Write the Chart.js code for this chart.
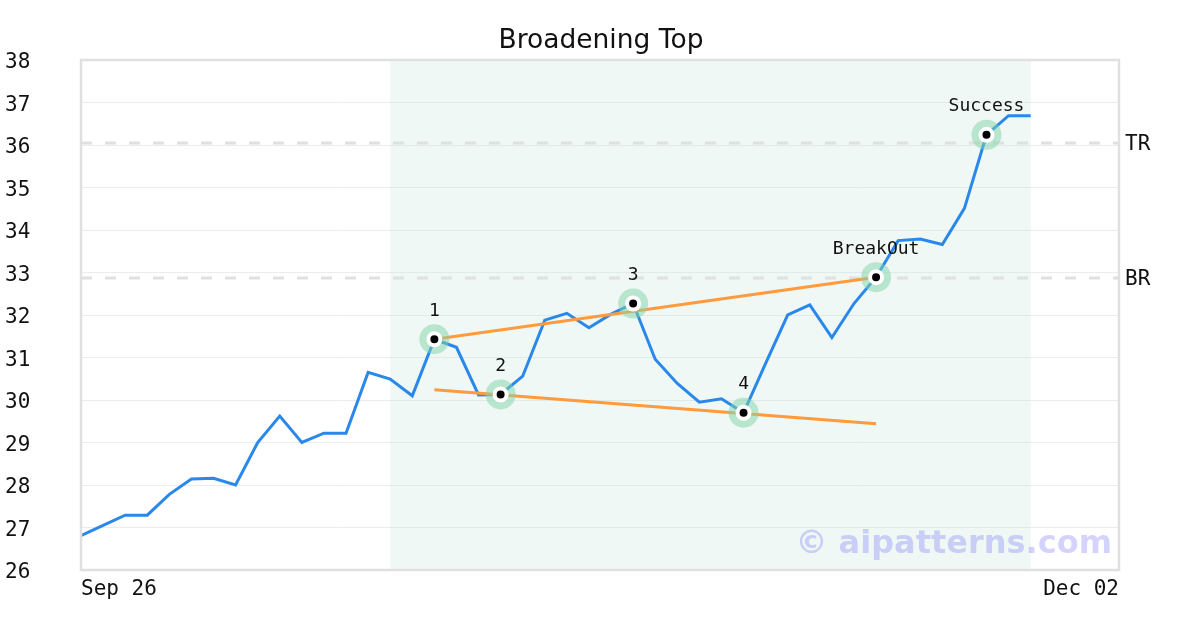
<!DOCTYPE html>
<html>
<head>
<meta charset="utf-8">
<script src="https://cdn.jsdelivr.net/npm/chart.js@4"></script>
<style>
  html, body { margin: 0; padding: 0; background: #fff; }
  canvas { display: block; }
</style>
</head>
<body>
<canvas id="patternChart" width="1200" height="630"></canvas>
<script>
// price series, one value per session starting Sep 26
const prices = [
    26.81, 27.05, 27.29, 27.29, 27.78, 28.14, 28.16, 28.00, 29.00, 29.62,
    29.00, 29.22, 29.22, 30.65, 30.49, 30.10, 31.43, 31.24, 30.12, 30.13,
    30.56, 31.88, 32.04, 31.70, 32.02, 32.27, 30.96, 30.39, 29.95, 30.03,
    29.70, 30.86, 32.00, 32.24, 31.47, 32.27, 32.89, 33.75, 33.79, 33.66,
    34.51, 36.24, 36.69, 36.69
];
const xTickLabels = ['Sep 26', 'Dec 02'];
const xTickIndex = [0, 47];
const yTicks = [26, 27, 28, 29, 30, 31, 32, 33, 34, 35, 36, 37, 38];

// pattern points
const pivotIndex = [16, 19, 25, 30, 36, 41];
const pivotLabels = ['1', '2', '3', '4', 'BreakOut', 'Success'];

// trend lines [startIdx, startVal, endIdx, endVal]
const upperTrend = [16, 31.43, 36, 32.89];
const lowerTrend = [16, 30.24, 36, 29.44];

// target / breakout levels
const levelValues = [36.05, 32.87];
const levelLabels = ['TR', 'BR'];

// highlighted range (indices)
const shadeRange = [14, 43];

const monoFont = "'DejaVu Sans Mono', monospace";

const pricePoints = prices.map((v, i) => ({ x: i, y: v }));
const pivotPoints = pivotIndex.map(i => ({ x: i, y: prices[i] }));

const extras = {
    id: 'extras',
    beforeDatasetsDraw(chart) {
        const { ctx, chartArea, scales } = chart;
        const x0 = scales.x.getPixelForValue(shadeRange[0]);
        const x1 = scales.x.getPixelForValue(shadeRange[1]);
        ctx.save();
        ctx.fillStyle = 'rgba(190, 228, 210, 0.25)';
        ctx.fillRect(x0, chartArea.top, x1 - x0, chartArea.bottom - chartArea.top);
        ctx.restore();
    },
    afterDatasetsDraw(chart) {
        const { ctx, chartArea, scales } = chart;
        ctx.save();

        // watermark
        ctx.font = "bold 32px 'DejaVu Sans', sans-serif";
        ctx.fillStyle = 'rgba(120, 120, 250, 0.33)';
        ctx.textAlign = 'right';
        ctx.textBaseline = 'middle';
        ctx.fillText('\u00a9 aipatterns.com', chartArea.right - 7, chartArea.bottom - 25);

        // frame
        ctx.strokeStyle = '#e0e0e0';
        ctx.lineWidth = 2.5;
        ctx.strokeRect(chartArea.left, chartArea.top, chartArea.right - chartArea.left, chartArea.bottom - chartArea.top);

        // y tick labels (drawn here to sit centred on the grid lines)
        ctx.fillStyle = '#111';
        ctx.font = '21px ' + monoFont;
        ctx.textAlign = 'left';
        yTicks.forEach(v => {
            ctx.fillText(String(v), 5, scales.y.getPixelForValue(v) + 3);
        });

        // level labels on the right
        levelValues.forEach((v, k) => {
            ctx.fillText(levelLabels[k], chartArea.right + 6, scales.y.getPixelForValue(v) + 2);
        });

        // pivot labels
        ctx.font = '18px ' + monoFont;
        ctx.textAlign = 'center';
        pivotIndex.forEach((idx, k) => {
            const px = scales.x.getPixelForValue(idx);
            const py = scales.y.getPixelForValue(prices[idx]);
            ctx.fillText(pivotLabels[k], px, py - 28);
        });

        // title
        ctx.font = "26.5px 'DejaVu Sans', sans-serif";
        ctx.textAlign = 'center';
        ctx.fillText('Broadening Top', 601, 41);
        ctx.restore();
    }
};

const ctx = document.getElementById('patternChart').getContext('2d');

const myChart = new Chart(ctx, {
    type: 'line',
    data: {
        datasets: [
            {
                // pivot dots
                data: pivotPoints,
                showLine: false,
                pointRadius: 6,
                pointBackgroundColor: '#000',
                pointBorderColor: '#fff',
                pointBorderWidth: 4,
                order: 0
            },
            {
                // halo round pivots
                data: pivotPoints,
                showLine: false,
                pointRadius: 15,
                pointBackgroundColor: 'rgba(130, 212, 170, 0.5)',
                pointBorderWidth: 0,
                order: 1
            },
            {
                data: [{ x: upperTrend[0], y: upperTrend[1] }, { x: upperTrend[2], y: upperTrend[3] }],
                borderColor: '#ff9a3d',
                borderWidth: 3,
                pointRadius: 0,
                order: 2
            },
            {
                data: [{ x: lowerTrend[0], y: lowerTrend[1] }, { x: lowerTrend[2], y: lowerTrend[3] }],
                borderColor: '#ff9a3d',
                borderWidth: 3,
                pointRadius: 0,
                order: 2
            },
            {
                data: pricePoints,
                borderColor: '#2a88ea',
                borderWidth: 3,
                pointRadius: 0,
                tension: 0,
                order: 3
            },
            ...levelValues.map(v => ({
                data: [{ x: 0, y: v }, { x: xTickIndex[1], y: v }],
                borderColor: '#e0e0e0',
                borderWidth: 3,
                borderDash: [11, 13],
                pointRadius: 0,
                order: 4
            }))
        ]
    },
    options: {
        responsive: false,
        animation: false,
        devicePixelRatio: 1,
        layout: { padding: { top: 60, left: 5, right: 81, bottom: 0 } },
        plugins: {
            legend: { display: false },
            tooltip: { enabled: false },
            title: { display: false }
        },
        scales: {
            x: {
                type: 'linear',
                min: 0,
                max: xTickIndex[1],
                grid: { display: false },
                border: { display: false },
                afterBuildTicks(scale) {
                    scale.ticks = xTickIndex.map(v => ({ value: v }));
                },
                afterFit(scale) { scale.height = 60; },
                ticks: {
                    align: 'inner',
                    maxRotation: 0,
                    padding: -1,
                    color: '#111',
                    font: { family: monoFont, size: 21 },
                    callback: (value) => xTickLabels[xTickIndex.indexOf(value)]
                }
            },
            y: {
                min: 26,
                max: 38,
                grid: { color: '#ececec', lineWidth: 1, drawTicks: false },
                border: { display: false },
                afterFit(scale) { scale.width = 76; },
                ticks: {
                    stepSize: 1,
                    display: false
                }
            }
        }
    },
    plugins: [extras]
});
</script>
</body>
</html>
